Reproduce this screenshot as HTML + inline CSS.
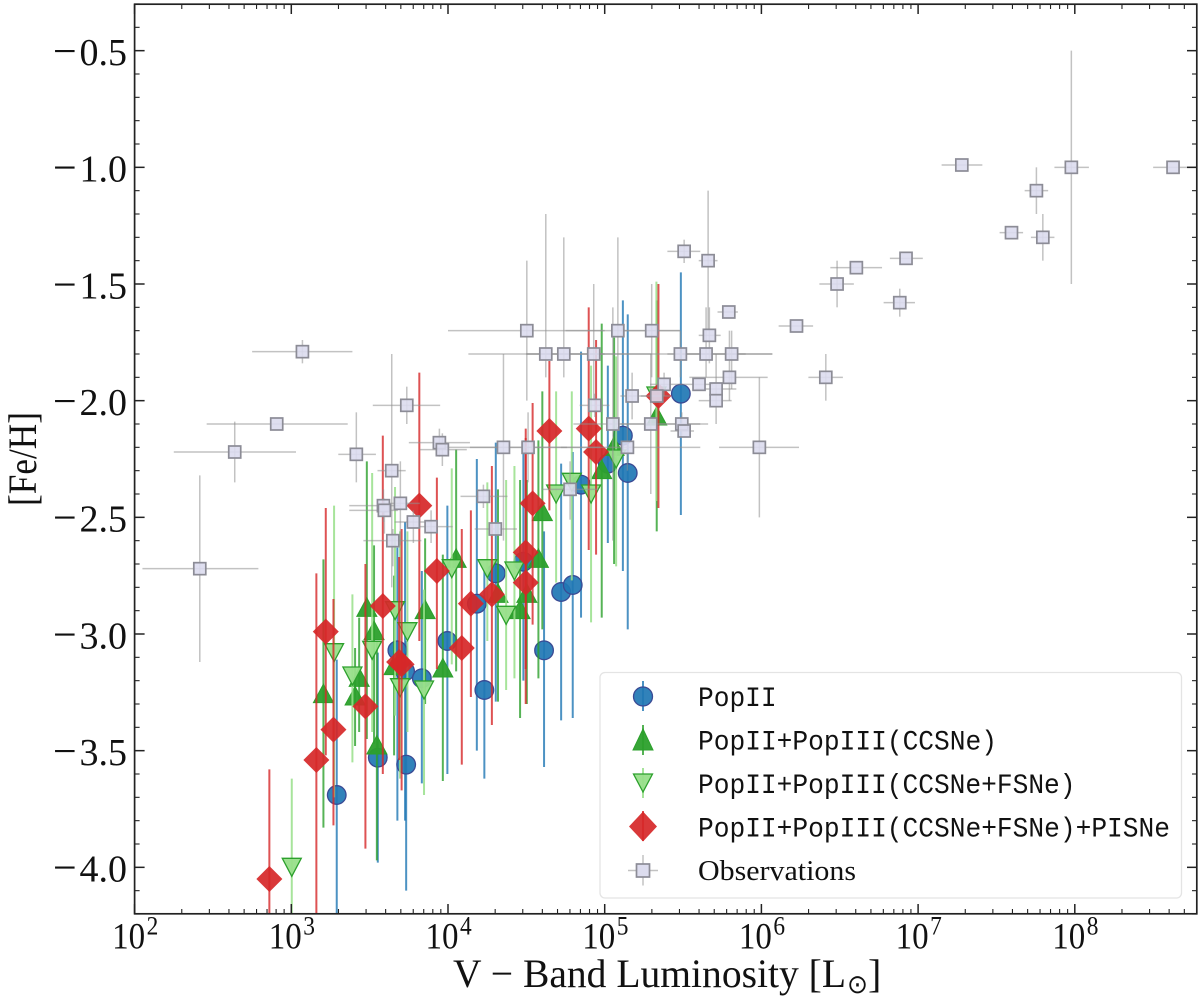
<!DOCTYPE html>
<html lang="en">
<head>
<meta charset="utf-8">
<title>[Fe/H] vs V-band luminosity</title>
<style>
html,body{margin:0;padding:0;background:#fff;}
svg{display:block;}
text{fill:#111;font-family:"Liberation Serif",serif;}
.mono{font-family:"Liberation Mono",monospace;font-size:28px;}
</style>
</head>
<body>
<svg id="chart" width="1200" height="1000" viewBox="0 0 1200 1000" xmlns="http://www.w3.org/2000/svg">
  <defs><clipPath id="plot-clip"><rect x="134.6" y="4" width="1062.4" height="910"/></clipPath></defs>
  <rect width="1200" height="1000" fill="#fff"/>
  <g id="marks" clip-path="url(#plot-clip)"></g>
  <g id="ticks"></g>
  <rect x="134.6" y="4.2" width="1062.2" height="909.6" fill="none" stroke="#222" stroke-width="1.7"/>
  <g id="ticklabels"></g>

  <g>
    <text x="453" y="987" font-size="40" textLength="393" lengthAdjust="spacingAndGlyphs">V − Band Luminosity [L</text>
    <text x="847" y="993" font-size="26" textLength="21" lengthAdjust="spacingAndGlyphs" style="font-family:'DejaVu Sans',sans-serif">⊙</text>
    <text x="868" y="987" font-size="40">]</text>
  </g>
  <text transform="translate(36,506) rotate(-90)" font-size="40" textLength="94" lengthAdjust="spacingAndGlyphs">[Fe/H]</text>

  <g>
    <rect x="600" y="672.5" width="581.5" height="225.5" rx="5" ry="5" fill="#fff" fill-opacity="0.85" stroke="#e4e4e4" stroke-width="1.3"/>
    <g>
      <line x1="643" x2="643" y1="681" y2="711" stroke="#1f77b4" stroke-width="2" stroke-opacity="0.8"/>
      <circle cx="643" cy="696.5" r="9.5" fill="#1f77b4" fill-opacity="0.92" stroke="#3a4a94" stroke-width="1.3"/>
      <text class="mono" x="698" y="706" textLength="78.6" lengthAdjust="spacingAndGlyphs">PopII</text>
    </g>
    <g>
      <line x1="643" x2="643" y1="725" y2="755" stroke="#2ca02c" stroke-width="2" stroke-opacity="0.8"/>
      <polygon points="643,729 653,750 633,750" fill="#2ca02c" fill-opacity="0.95" stroke="#2ca02c" stroke-width="1"/>
      <text class="mono" x="698" y="749.5" textLength="299" lengthAdjust="spacingAndGlyphs">PopII+PopIII(CCSNe)</text>
    </g>
    <g>
      <line x1="643" x2="643" y1="768" y2="798" stroke="#98df8a" stroke-width="2" stroke-opacity="0.85"/>
      <polygon points="633.5,774 652.5,774 643,792" fill="#98df8a" fill-opacity="0.95" stroke="#2ca02c" stroke-width="1.3"/>
      <text class="mono" x="698" y="793" textLength="377.5" lengthAdjust="spacingAndGlyphs">PopII+PopIII(CCSNe+FSNe)</text>
    </g>
    <g>
      <line x1="643" x2="643" y1="811" y2="841" stroke="#d62728" stroke-width="2" stroke-opacity="0.8"/>
      <polygon points="643,811.5 657,826.5 643,841.5 629,826.5" fill="#d62728" fill-opacity="0.92"/>
      <text class="mono" x="698" y="836.5" textLength="472" lengthAdjust="spacingAndGlyphs">PopII+PopIII(CCSNe+FSNe)+PISNe</text>
    </g>
    <g>
      <line x1="628" x2="658" y1="870.5" y2="870.5" stroke="#999" stroke-width="1.5" stroke-opacity="0.6"/>
      <line x1="643" x2="643" y1="855" y2="885.5" stroke="#999" stroke-width="1.5" stroke-opacity="0.6"/>
      <rect x="636.5" y="864" width="13" height="13" fill="#dcdcee" stroke="#8c8c96" stroke-width="1.7"/>
      <text x="698" y="880" font-size="29" textLength="158" lengthAdjust="spacingAndGlyphs">Observations</text>
    </g>
  </g>
</svg>
<script>
// Axis tick values
const xMajorExponents = [2, 3, 4, 5, 6, 7, 8];
const yMajorTicks = [-4.0, -3.5, -3.0, -2.5, -2.0, -1.5, -1.0, -0.5];
const yTickLabels = ["−4.0", "−3.5", "−3.0", "−2.5", "−2.0", "−1.5", "−1.0", "−0.5"];
const xLimits = [2, 8.78];
const yLimits = [-4.2, -0.3];

// PopII
const popIILogL = [3.29, 3.552, 3.733, 3.677, 3.726, 3.833, 3.996, 4.232, 4.184, 4.613, 4.722, 4.796, 4.305, 4.481, 4.849, 5.02, 5.116, 5.147, 5.486];
const popIIFeH = [-3.69, -3.53, -3.56, -3.07, -3.16, -3.19, -3.03, -3.24, -2.87, -3.07, -2.82, -2.79, -2.74, -2.69, -2.36, -2.27, -2.15, -2.31, -1.97];
const popIIHigh = [-3.11, -3.08, -3.03, -2.63, -2.52, -2.73, -2.45, -2.73, -2.25, -2.56, -2.27, -2.22, -2.18, -2.17, -1.79, -1.85, -1.57, -1.63, -1.45];
const popIILow = [-4.3, -3.98, -4.10, -3.80, -3.80, -3.64, -3.60, -3.62, -3.50, -3.57, -3.37, -3.36, -3.29, -3.20, -2.93, -2.61, -2.73, -2.98, -2.49];

// PopII+PopIII(CCSNe)
const ccsneLogL = [3.205, 3.546, 3.482, 3.528, 3.433, 3.407, 3.656, 3.854, 3.967, 4.46, 4.052, 4.319, 4.503, 4.577, 4.602, 4.981, 5.06, 5.332];
const ccsneFeH = [-3.26, -3.48, -2.89, -2.99, -3.19, -3.27, -3.14, -2.90, -3.15, -2.90, -2.68, -2.83, -2.83, -2.68, -2.48, -2.30, -2.20, -2.07];
const ccsneHigh = [-2.68, -3.03, -2.26, -2.62, -2.93, -3.06, -2.75, -2.59, -2.66, -2.34, -2.21, -2.38, -2.34, -2.17, -1.96, -1.67, -1.73, -1.57];
const ccsneLow = [-3.83, -3.97, -3.45, -3.47, -3.42, -3.48, -3.52, -3.30, -3.63, -3.36, -3.16, -3.29, -3.30, -3.19, -2.98, -2.93, -2.70, -2.56];

// PopII+PopIII(CCSNe+FSNe)
const fsneLogL = [3.003, 3.273, 3.39, 3.516, 3.694, 3.847, 3.741, 3.662, 4.371, 4.024, 4.251, 4.424, 4.69, 4.79, 4.913, 5.073, 5.33];
const fsneFeH = [-4.0, -3.08, -3.18, -3.07, -3.23, -3.24, -2.99, -2.90, -2.92, -2.72, -2.72, -2.73, -2.40, -2.35, -2.40, -2.25, -1.98];
const fsneHigh = [-3.62, -2.45, -2.83, -2.31, -2.56, -2.81, -2.56, -2.37, -2.34, -2.29, -2.35, -2.28, -1.96, -1.96, -1.85, -1.81, -1.49];
const fsneLow = [-4.3, -3.70, -3.55, -3.42, -3.62, -3.69, -3.42, -3.35, -3.24, -3.13, -3.03, -3.19, -2.78, -2.77, -2.95, -2.71, -2.43];

// PopII+PopIII(CCSNe+FSNe)+PISNe
const pisneLogL = [2.86, 3.16, 3.22, 3.269, 3.473, 3.584, 3.688, 3.704, 3.817, 3.929, 4.088, 4.146, 4.28, 4.496, 4.496, 4.54, 4.647, 4.898, 4.945, 5.343];
const pisneFeH = [-4.05, -3.54, -2.99, -3.41, -3.31, -2.88, -3.12, -3.13, -2.45, -2.73, -3.06, -2.87, -2.83, -2.65, -2.78, -2.44, -2.13, -2.12, -2.22, -1.98];
const pisneHigh = [-3.58, -2.74, -2.46, -2.85, -2.70, -2.15, -2.67, -2.55, -1.88, -2.33, -2.55, -2.47, -2.28, -2.16, -2.12, -2.01, -1.83, -1.60, -1.74, -1.50];
const pisneLow = [-4.3, -4.3, -3.52, -3.82, -3.92, -3.60, -3.54, -3.67, -3.03, -3.15, -3.56, -3.27, -3.39, -3.15, -3.30, -2.96, -2.47, -2.64, -2.66, -2.46];

// Observations
const obsLogL = [2.416, 2.639, 2.907, 3.071, 3.415, 3.641, 3.737, 3.588, 3.594, 3.696, 3.779, 3.892, 3.648, 3.945, 3.964, 4.354, 4.511, 5.145, 5.987, 4.779, 4.226, 4.302, 4.503, 5.084, 5.30, 4.624, 4.739, 4.93, 5.483, 5.647, 5.81, 5.66, 5.792, 5.668, 5.796, 5.602, 5.711, 5.711, 5.175, 5.379, 5.332, 5.052, 5.294, 5.492, 5.507, 4.937, 5.507, 6.411, 6.224, 6.483, 6.606, 6.923, 6.883, 7.279, 7.596, 7.755, 7.796, 7.978, 8.627];
const obsFeH = [-2.72, -2.22, -2.10, -1.79, -2.23, -2.30, -2.02, -2.45, -2.47, -2.44, -2.52, -2.54, -2.60, -2.18, -2.21, -2.20, -2.20, -2.20, -2.20, -2.38, -2.41, -2.55, -1.70, -1.70, -1.70, -1.80, -1.80, -1.80, -1.80, -1.80, -1.80, -1.40, -1.62, -1.72, -1.90, -1.93, -1.95, -2.00, -1.98, -1.93, -1.98, -2.10, -2.10, -2.10, -2.13, -2.02, -1.36, -1.90, -1.68, -1.50, -1.43, -1.39, -1.58, -0.99, -1.28, -1.10, -1.30, -1.00, -1.00];
const obsLogLow = [2.05, 2.25, 2.46, 2.75, 3.30, 3.55, 3.52, 3.37, 3.37, 3.57, 3.66, 3.82, 3.46, 3.75, 3.82, 3.95, 4.14, 4.72, 5.73, 4.60, 4.08, 4.17, 4.00, 4.75, 5.10, 4.13, 4.50, 4.50, 5.10, 5.40, 5.50, 5.60, 5.72, 5.60, 5.54, 5.55, 5.58, 5.60, 5.10, 5.29, 5.23, 4.80, 5.10, 5.35, 5.42, 4.84, 5.40, 6.30, 6.11, 6.37, 6.44, 6.82, 6.78, 7.15, 7.52, 7.68, 7.72, 7.87, 8.50];
const obsLogHigh = [2.79, 3.03, 3.36, 3.39, 3.54, 3.73, 3.95, 3.69, 3.68, 3.82, 3.90, 4.03, 3.83, 4.14, 4.12, 4.76, 4.97, 5.61, 6.24, 4.96, 4.38, 4.44, 5.00, 5.48, 5.48, 5.10, 5.00, 5.30, 6.07, 5.90, 6.07, 5.72, 5.85, 5.74, 6.04, 5.69, 5.84, 5.81, 5.27, 5.55, 5.42, 5.29, 5.66, 5.61, 5.57, 5.03, 5.61, 6.52, 6.33, 6.59, 6.77, 7.03, 6.98, 7.41, 7.67, 7.83, 7.87, 8.09, 8.80];
const obsHigh = [-2.32, -2.09, -2.10, -1.74, -2.05, -1.80, -1.94, -2.38, -2.42, -2.26, -2.47, -2.47, -2.55, -2.12, -2.14, -1.80, -2.05, -2.10, -1.90, -2.26, -2.36, -2.55, -1.40, -1.30, -1.50, -1.20, -1.30, -1.50, -1.70, -1.60, -1.70, -1.10, -1.62, -1.60, -1.70, -1.93, -1.80, -2.00, -1.88, -1.88, -1.98, -1.60, -1.80, -2.05, -2.13, -1.97, -1.31, -1.80, -1.68, -1.40, -1.43, -1.39, -1.52, -0.99, -1.28, -1.00, -1.20, -0.50, -1.00];
const obsLow = [-3.12, -2.35, -2.10, -1.84, -2.35, -2.80, -2.10, -2.52, -2.57, -2.62, -2.61, -2.61, -2.71, -2.24, -2.28, -2.60, -2.35, -2.30, -2.50, -2.51, -2.46, -2.55, -2.00, -2.10, -1.90, -1.90, -1.90, -2.00, -1.90, -1.90, -1.95, -1.70, -1.62, -1.84, -2.00, -1.93, -2.10, -2.00, -2.08, -1.98, -1.98, -2.60, -2.40, -2.15, -2.13, -2.07, -1.41, -2.00, -1.68, -1.60, -1.43, -1.39, -1.64, -0.99, -1.28, -1.20, -1.40, -1.50, -1.00];

// Axis functions
const PLOT_LEFT = 134.6, PLOT_RIGHT = 1197, DECADE = 156.7;
const PLOT_TOP = 4, PLOT_BOTTOM = 914;
function xScale(logL) { return PLOT_LEFT + (logL - xLimits[0]) * DECADE; }
function yScale(feh) { return PLOT_TOP + (yLimits[1] - feh) * (PLOT_BOTTOM - PLOT_TOP) / (yLimits[1] - yLimits[0]); }

const NS = 'http://www.w3.org/2000/svg';
function svgEl(tag, parent, attrs) {
  const el = document.createElementNS(NS, tag);
  for (const k in attrs) el.setAttribute(k, attrs[k]);
  parent.appendChild(el);
  return el;
}

const marks = document.getElementById('marks');

function drawBar(group, x1, y1, x2, y2, color, width, opacity) {
  const bar = svgEl('line', group, { x1: x1, y1: y1, x2: x2, y2: y2, stroke: color, 'stroke-width': width, 'stroke-opacity': opacity });
  
  
}

function drawMarker(group, shape, cx, cy) {
  let m;
  if (shape === 'circle') {
    m = svgEl('circle', group, { cx: cx, cy: cy, r: 9.3, fill: '#1f77b4', 'fill-opacity': 0.92, stroke: '#3a4a94', 'stroke-width': 1.3 });
  } else if (shape === 'up') {
    m = svgEl('polygon', group, { points: [cx, cy - 10.5, cx + 10, cy + 8, cx - 10, cy + 8].join(' '), fill: '#2ca02c', 'fill-opacity': 0.95, stroke: '#2ca02c', 'stroke-width': 1 });
  } else if (shape === 'down') {
    m = svgEl('polygon', group, { points: [cx - 9.5, cy - 9, cx + 9.5, cy - 9, cx, cy + 9].join(' '), fill: '#98df8a', 'fill-opacity': 0.95, stroke: '#2ca02c', 'stroke-width': 1.3 });
  } else if (shape === 'diamond') {
    m = svgEl('polygon', group, { points: [cx, cy - 13, cx + 13, cy, cx, cy + 13, cx - 13, cy].join(' '), fill: '#d62728', 'fill-opacity': 0.92 });
  } else {
    m = svgEl('rect', group, { x: cx - 6, y: cy - 6, width: 12, height: 12, fill: '#dcdcee', 'fill-opacity': 0.9, stroke: '#8c8c96', 'stroke-width': 1.7 });
  }
  
  
}

function drawSeries(seriesName, logL, feh, high, low, color, barOpacity, shape) {
  const g = svgEl('g', marks, {});
  
  
  for (let i = 0; i < logL.length; i++) {
    const x = xScale(logL[i]);
    drawBar(g, x, yScale(high[i]), x, yScale(low[i]), color, 2, barOpacity);
  }
  for (let i = 0; i < logL.length; i++) {
    drawMarker(g, shape, xScale(logL[i]), yScale(feh[i]));
  }
}

drawSeries('series-popii', popIILogL, popIIFeH, popIIHigh, popIILow, '#1f77b4', 0.8, 'circle');
drawSeries('series-popii-popiii-ccsne', ccsneLogL, ccsneFeH, ccsneHigh, ccsneLow, '#2ca02c', 0.8, 'up');
drawSeries('series-popii-popiii-ccsne-fsne', fsneLogL, fsneFeH, fsneHigh, fsneLow, '#98df8a', 0.85, 'down');
drawSeries('series-popii-popiii-ccsne-fsne-pisne', pisneLogL, pisneFeH, pisneHigh, pisneLow, '#d62728', 0.8, 'diamond');

// Observations sit on top of the models
const obsGroup = svgEl('g', marks, {});


for (let i = 0; i < obsLogL.length; i++) {
  const x = xScale(obsLogL[i]), y = yScale(obsFeH[i]);
  drawBar(obsGroup, xScale(obsLogLow[i]), y, xScale(obsLogHigh[i]), y, '#8f8f8f', 1.5, 0.55);
  if (obsHigh[i] !== obsLow[i]) drawBar(obsGroup, x, yScale(obsHigh[i]), x, yScale(obsLow[i]), '#8f8f8f', 1.5, 0.55);
}
for (let i = 0; i < obsLogL.length; i++) {
  drawMarker(obsGroup, 'square', xScale(obsLogL[i]), yScale(obsFeH[i]));
}

// Ticks
const tickGroup = document.getElementById('ticks');
function tick(x1, y1, x2, y2, width) {
  const t = svgEl('line', tickGroup, { x1: x1, y1: y1, x2: x2, y2: y2, stroke: '#222', 'stroke-width': width });
  
  
}
function xTick(logL, len, width) {
  const x = xScale(logL);
  if (x > PLOT_RIGHT) return;
  tick(x, PLOT_BOTTOM, x, PLOT_BOTTOM - len, width);
  tick(x, PLOT_TOP, x, PLOT_TOP + len, width);
}
function yTick(feh, len, width) {
  const y = yScale(feh);
  tick(PLOT_LEFT, y, PLOT_LEFT + len, y, width);
  tick(PLOT_RIGHT, y, PLOT_RIGHT - len, y, width);
}
xMajorExponents.forEach(function (e) {
  xTick(e, 10, 1.5);
  for (let m = 2; m <= 9; m++) xTick(e + Math.log10(m), 5, 1.1);
});
yMajorTicks.forEach(function (v) { yTick(v, 10, 1.5); });
for (let k = -42; k <= -3; k++) {
  if (k % 5 !== 0) yTick(k / 10, 5, 1.1);
}

// Tick labels
const labelGroup = document.getElementById('ticklabels');
yMajorTicks.forEach(function (v, i) {
  const t = svgEl('text', labelGroup, { y: yScale(v) + 14.3, 'font-size': 38 });
  
  
  const minus = svgEl('tspan', t, { x: 53, 'font-size': 42 });
  minus.textContent = yTickLabels[i].charAt(0);
  const digits = svgEl('tspan', t, { x: 79.5 });
  digits.textContent = yTickLabels[i].slice(1);
});
xMajorExponents.forEach(function (e) {
  const x = xScale(e);
  const base = svgEl('text', labelGroup, { x: x - 22.5, y: 948.3, 'font-size': 37, textLength: 33, lengthAdjust: 'spacingAndGlyphs' });
  
  
  base.textContent = '10';
  const exp = svgEl('text', labelGroup, { x: x + 12, y: 934.5, 'font-size': 26, textLength: 11.7, lengthAdjust: 'spacingAndGlyphs' });
  
  
  exp.textContent = String(e);
});
</script>
</body>
</html>
